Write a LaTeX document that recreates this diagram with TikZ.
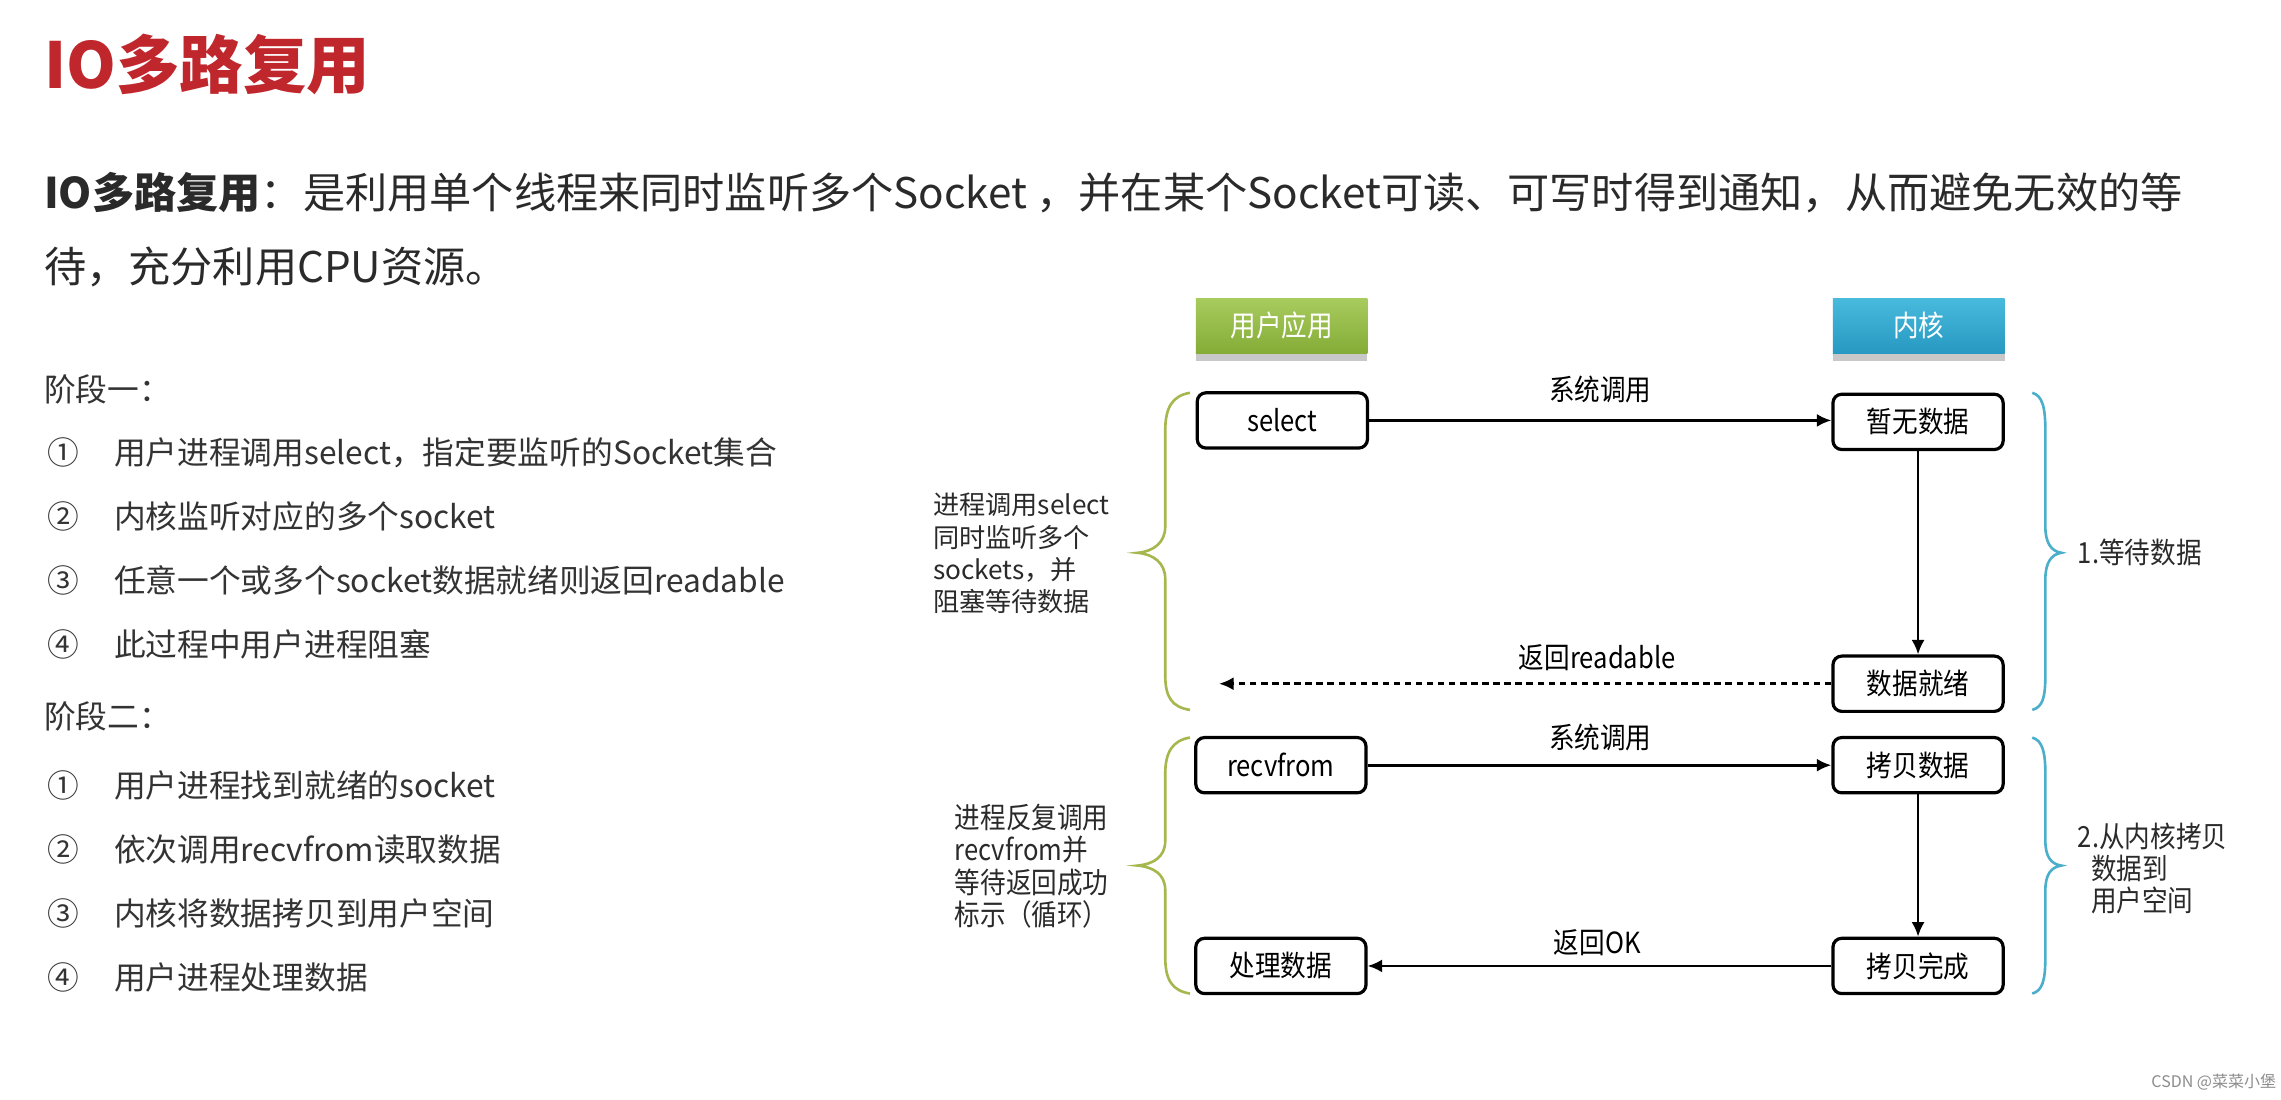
\documentclass[tikz,border=0pt]{standalone}
\usepackage{fontspec}
\setmainfont{Noto Sans CJK SC}
\newfontfamily\cjk{Noto Sans CJK SC}
\newfontfamily\cjkc{Noto Sans CJK SC}[FakeStretch=0.88]
\usetikzlibrary{arrows.meta,shadows}
\definecolor{hgreenT}{HTML}{A8CB5E}
\definecolor{hgreenB}{HTML}{84AC36}
\definecolor{hblueT}{HTML}{48BADC}
\definecolor{hblueB}{HTML}{2799C2}
\definecolor{brgreen}{HTML}{A5B84E}
\definecolor{brblue}{HTML}{4BAFCB}
\definecolor{titlered}{HTML}{C0272D}
\definecolor{txt}{HTML}{2A2A2A}
\definecolor{listtxt}{HTML}{333333}
\tikzset{
  flowbox/.style={draw=black, line width=1.1pt, rounded corners=3pt, minimum width=58.5pt, minimum height=19pt, inner sep=0pt, fill=white, font=\cjkc\fontsize{10}{12}\selectfont},
  headbox/.style={minimum width=59pt, minimum height=19pt, inner sep=0pt, text=white, font=\cjkc\fontsize{10}{12}\selectfont, drop shadow={shadow xshift=0pt, shadow yshift=-2.5pt, opacity=0.3, fill=black!70}},
  arr/.style={line width=0.9pt, -{Latex[length=5pt,width=4.5pt]}},
  lbl/.style={inner sep=0pt, font=\cjkc\fontsize{10}{12}\selectfont},
  listitem/.style={anchor=base west, inner sep=0pt, text=listtxt, font=\fontsize{10.9}{13}\selectfont},
  bodyline/.style={anchor=base west, inner sep=0pt, text=txt, font=\fontsize{14.5}{18}\selectfont},
  sidetxt/.style={anchor=west, align=left, inner sep=0pt, text=txt},
  brgr/.style={draw=brgreen, line width=0.9pt},
  brbl/.style={draw=brblue, line width=0.9pt}
}
\begin{document}
\begin{tikzpicture}[x=0.5pt,y=-0.5pt]
\fill[white] (0,0) rectangle (1568,756);
\useasboundingbox (0,0) rectangle (1568,756);

% title and intro
\node[anchor=base west, inner sep=0pt, text=titlered, font=\bfseries\fontsize{21.8}{26}\selectfont] (title) at (30,61) {IO多路复用};
\node[bodyline] (intro1) at (30,143) {\textbf{IO多路复用}：是利用单个线程来同时监听多个Socket ，并在某个Socket可读、可写时得到通知，从而避免无效的等};
\node[bodyline] (intro2) at (30,194) {待，充分利用CPU资源。};

% stage lists
\node[listitem] (st1) at (30,276) {阶段一：};
\node[listitem] (n11) at (32,319) {①};
\node[listitem] (t11) at (78,319) {用户进程调用select，指定要监听的Socket集合};
\node[listitem] (n12) at (32,363) {②};
\node[listitem] (t12) at (78,363) {内核监听对应的多个socket};
\node[listitem] (n13) at (32,407) {③};
\node[listitem] (t13) at (78,407) {任意一个或多个socket数据就绪则返回readable};
\node[listitem] (n14) at (32,451) {④};
\node[listitem] (t14) at (78,451) {此过程中用户进程阻塞};
\node[listitem] (st2) at (30,501) {阶段二：};
\node[listitem] (n21) at (32,548) {①};
\node[listitem] (t21) at (78,548) {用户进程找到就绪的socket};
\node[listitem] (n22) at (32,592) {②};
\node[listitem] (t22) at (78,592) {依次调用recvfrom读取数据};
\node[listitem] (n23) at (32,636) {③};
\node[listitem] (t23) at (78,636) {内核将数据拷贝到用户空间};
\node[listitem] (n24) at (32,680) {④};
\node[listitem] (t24) at (78,680) {用户进程处理数据};

% header boxes
\node[headbox, top color=hgreenT, bottom color=hgreenB] (user) at (881,224) {用户应用};
\node[headbox, top color=hblueT, bottom color=hblueB] (kernel) at (1319,224) {内核};

% flow boxes
\node[flowbox] (select) at (881.5,289) {select};
\node[flowbox] (nodata) at (1318.5,290) {暂无数据};
\node[flowbox] (ready) at (1318.5,470) {数据就绪};
\node[flowbox] (recv) at (880.5,526) {recvfrom};
\node[flowbox] (copy) at (1318.5,526) {拷贝数据};
\node[flowbox] (proc) at (880.5,664) {处理数据};
\node[flowbox] (done) at (1318.5,664) {拷贝完成};
\coordinate (rdend) at (838,470);

% connectors
\draw[arr] (select.east) -- (select.east -| nodata.west);
\draw[arr] (nodata) -- (ready);
\draw[arr, dash pattern=on 2.2pt off 1.6pt] (ready.west) -- (ready.west -| rdend);
\draw[arr] (recv.east) -- (recv.east -| copy.west);
\draw[arr] (copy) -- (done);
\draw[arr] (done.west) -- (done.west -| proc.east);

% connector labels
\node[lbl] (l1) at (1100,268) {系统调用};
\node[lbl] (l2) at (1098,452) {返回readable};
\node[lbl] (l3) at (1100,507) {系统调用};
\node[lbl] (l4) at (1098,648) {返回OK};

% braces
\draw[brgr] (818,270) .. controls (806,272) and (801,280) .. (801,296) -- (801,362) .. controls (801,373) and (793,379) .. (782,380) .. controls (793,381) and (801,387) .. (801,398) -- (801,464) .. controls (801,480) and (806,486) .. (818,488);
\draw[brgr] (818,507) .. controls (806,509) and (801,517) .. (801,532) -- (801,578) .. controls (801,589) and (793,594) .. (782,595) .. controls (793,596) and (801,601) .. (801,612) -- (801,658) .. controls (801,674) and (806,681) .. (818,683);
\draw[brbl] (1397,270) .. controls (1404,272) and (1406,280) .. (1406,296) -- (1406,362) .. controls (1406,373) and (1410,379) .. (1417,380) .. controls (1410,381) and (1406,387) .. (1406,398) -- (1406,464) .. controls (1406,480) and (1404,486) .. (1397,488);
\draw[brbl] (1397,507) .. controls (1404,509) and (1406,517) .. (1406,532) -- (1406,578) .. controls (1406,589) and (1410,594) .. (1417,595) .. controls (1410,596) and (1406,601) .. (1406,612) -- (1406,658) .. controls (1406,674) and (1404,681) .. (1397,683);

% side texts
\node[sidetxt, font=\cjk\fontsize{9}{11.15}\selectfont] (side1) at (641,380.5) {进程调用select\\同时监听多个\\sockets，并\\阻塞等待数据};
\node[sidetxt, font=\cjkc\fontsize{10}{11.15}\selectfont] (side2) at (656,595.5) {进程反复调用\\recvfrom并\\等待返回成功\\标示（循环）};
\node[sidetxt, font=\cjkc\fontsize{10}{12}\selectfont] (side3) at (1428,380) {1.等待数据};
\node[sidetxt, font=\cjkc\fontsize{10}{11}\selectfont] (side4) at (1437,597) {\hspace*{-4.5pt}2.从内核拷贝\\数据到\\用户空间};

% watermark
\node[anchor=east, inner sep=0pt, text=black!45, font=\fontsize{5.5}{6}\selectfont] (wm) at (1565,744) {CSDN @菜菜小堡};
\end{tikzpicture}
\end{document}
